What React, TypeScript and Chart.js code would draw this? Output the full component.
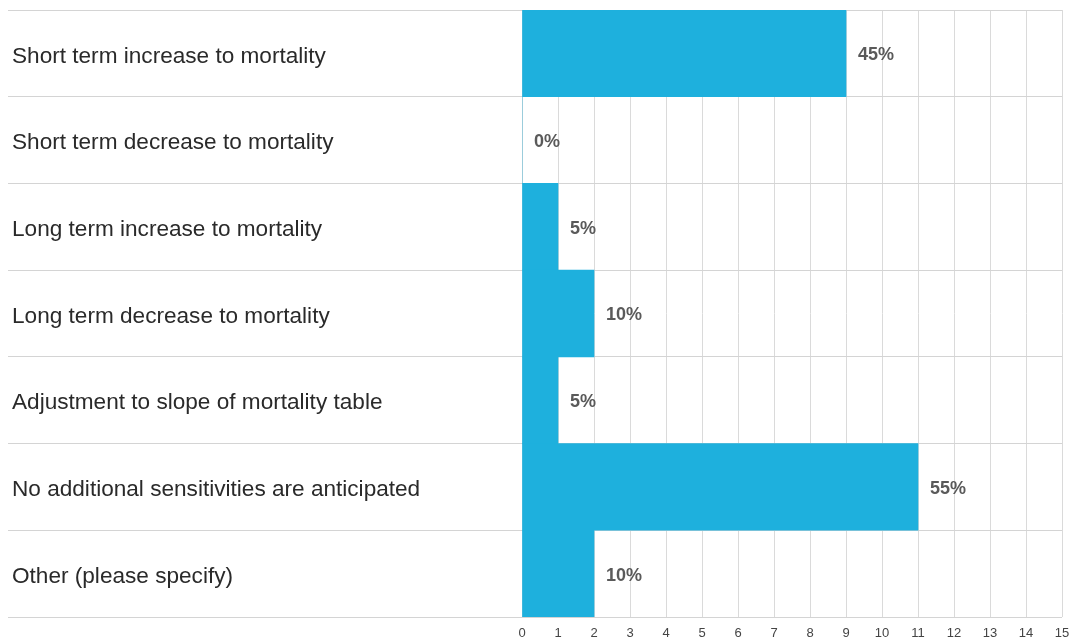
import React, { useEffect, useRef } from "react";
import { Chart, registerables } from "chart.js";

Chart.register(...registerables);

const categories = [
  "Short term increase to mortality",
  "Short term decrease to mortality",
  "Long term increase to mortality",
  "Long term decrease to mortality",
  "Adjustment to slope of mortality table",
  "No additional sensitivities are anticipated",
  "Other (please specify)",
];
const counts = [9, 0, 1, 2, 1, 11, 2];
const percents = [45, 0, 5, 10, 5, 55, 10];
const xMin = 0;
const xMax = 15;

const FONT = "'Liberation Sans', Arial, Helvetica, sans-serif";

const pctLabels = {
  id: "pctLabels",
  afterDatasetsDraw(chart: any) {
    const ctx = chart.ctx;
    const meta = chart.getDatasetMeta(0);
    ctx.save();
    ctx.font = `bold 18px ${FONT}`;
    ctx.fillStyle = "#5a5a5a";
    ctx.textAlign = "left";
    ctx.textBaseline = "middle";
    meta.data.forEach((el: any, i: number) => {
      ctx.fillText(`${percents[i]}%`, el.x + 12, el.y + 2);
    });
    ctx.restore();
  },
};

export default function App() {
  const ref = useRef<HTMLCanvasElement | null>(null);
  useEffect(() => {
    if (!ref.current) return;
    const chart = new Chart(ref.current, {
      type: "bar",
      data: {
        labels: categories,
        datasets: [
          {
            data: counts,
            backgroundColor: "#1eb0dd",
            borderWidth: 0,
            barPercentage: 1,
            categoryPercentage: 1,
          },
        ],
      },
      options: {
        indexAxis: "y",
        animation: false,
        responsive: false,
        maintainAspectRatio: false,
        layout: { padding: { left: 12, right: 12, top: 10, bottom: 0 } },
        plugins: {
          legend: { display: false },
          tooltip: { enabled: false },
        },
        scales: {
          x: {
            min: xMin,
            max: xMax,
            border: { display: false },
            grid: { color: "#dadada", lineWidth: 1, drawTicks: false },
            ticks: {
              stepSize: 1,
              padding: 9,
              color: "#444444",
              maxRotation: 0,
              font: { family: FONT, size: 13 },
            },
            afterFit(scale: any) {
              scale.height = 25;
              scale.paddingLeft = 0;
              scale.paddingRight = 0;
            },
          },
          y: {
            border: { display: false },
            grid: {
              offset: true,
              color: "#d4d4d4",
              lineWidth: 1,
              drawTicks: true,
              tickLength: 514,
            },
            ticks: {
              crossAlign: "far",
              labelOffset: 3,
              color: "#2a2a2a",
              font: { family: FONT, size: 22.6 },
            },
            afterFit(scale: any) {
              scale.width = 510;
              scale.paddingTop = 0;
              scale.paddingBottom = 0;
            },
          },
        },
      },
      plugins: [pctLabels],
    });
    return () => chart.destroy();
  }, []);
  return (
    <div style={{ position: "absolute", left: 0, top: 0, width: 1074, height: 642, background: "#fff" }}>
      <canvas ref={ref} width={1074} height={642} style={{ width: 1074, height: 642 }} />
    </div>
  );
}
